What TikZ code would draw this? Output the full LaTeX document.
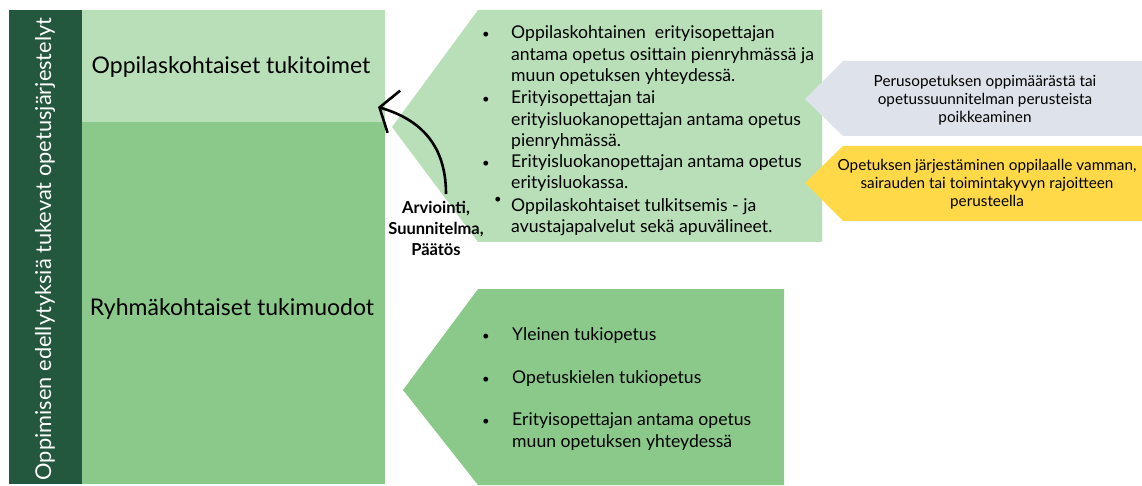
\documentclass[tikz,border=0pt]{standalone}
\usepackage{fontspec}
\setmainfont{Lato}
\usetikzlibrary{arrows.meta}
\definecolor{darkg}{RGB}{36,88,62}
\definecolor{lightg}{RGB}{184,223,184}
\definecolor{midg}{RGB}{139,201,138}
\definecolor{grayb}{RGB}{222,226,234}
\definecolor{yellowb}{RGB}{255,217,71}
\tikzset{
  txt/.style={inner sep=0pt, font=\fontsize{17.6}{21}\selectfont, anchor=base west},
  bul/.style={inner sep=0pt, font=\fontsize{13}{21}\selectfont, anchor=base},
  small/.style={inner sep=0pt, font=\fontsize{15.3}{18}\selectfont, anchor=base},
  head/.style={inner sep=0pt, font=\fontsize{23}{27}\selectfont, anchor=base},
}
\begin{document}
\begin{tikzpicture}[x=1pt,y=-1pt]
\useasboundingbox (0,0) rectangle (1142,486);
% left column
\fill[darkg] (9,10) rectangle (82,484);
\fill[lightg] (82,10) rectangle (385,122);
\fill[midg] (82,122) rectangle (385,484);
\node[inner sep=0pt, rotate=90, text=white, font=\fontsize{21.8}{25}\selectfont] (side) at (45,249) {Oppimisen edellytyksiä tukevat opetusjärjestelyt};
\node[head] (t1) at (231,74) {Oppilaskohtaiset tukitoimet};
\node[head] (t2) at (232,315) {Ryhmäkohtaiset tukimuodot};
% callouts
\fill[lightg] (478,10) -- (822,10) -- (822,242) -- (478,242) -- (392,127) -- cycle;
\fill[grayb] (843,61) -- (1142,61) -- (1142,136) -- (843,136) -- (805,99) -- cycle;
\fill[yellowb] (843,146) -- (1142,146) -- (1142,221) -- (843,221) -- (805,183) -- cycle;
\fill[midg] (478,289) -- (784,289) -- (784,485) -- (478,485) -- (403,390) -- cycle;
% top callout text
\node[bul] (b1) at (486,39) {•};
\node[txt] (l1) at (511,39) {Oppilaskohtainen\ \ erityisopettajan};
\node[txt] (l2) at (511,61) {antama opetus osittain pienryhmässä ja};
\node[txt] (l3) at (511,82) {muun opetuksen yhteydessä.};
\node[bul] (b2) at (486,104) {•};
\node[txt] (l4) at (511,104) {Erityisopettajan tai};
\node[txt] (l5) at (511,126) {erityisluokanopettajan antama opetus};
\node[txt] (l6) at (511,147) {pienryhmässä.};
\node[bul] (b3) at (486,168) {•};
\node[txt] (l7) at (511,168) {Erityisluokanopettajan antama opetus};
\node[txt] (l8) at (511,189) {erityisluokassa.};
\node[bul] (b4) at (498,204) {•};
\node[txt] (l9) at (511,212) {Oppilaskohtaiset tulkitsemis - ja};
\node[txt] (l10) at (511,233) {avustajapalvelut sekä apuvälineet.};
% gray text
\node[small] (g1) at (985,87) {Perusopetuksen oppimäärästä tai};
\node[small] (g2) at (985,105) {opetussuunnitelman perusteista};
\node[small] (g3) at (985,123) {poikkeaminen};
% yellow text
\node[small] (y1) at (987,171) {Opetuksen järjestäminen oppilaalle vamman,};
\node[small] (y2) at (987,189) {sairauden tai toimintakyvyn rajoitteen};
\node[small] (y3) at (987,207) {perusteella};
% bottom callout text
\node[bul] (c1) at (486,340) {•};
\node[txt] (m1) at (512,340) {Yleinen tukiopetus};
\node[bul] (c2) at (486,383) {•};
\node[txt] (m2) at (512,383) {Opetuskielen tukiopetus};
\node[bul] (c3) at (486,425) {•};
\node[txt] (m3) at (512,425) {Erityisopettajan antama opetus};
\node[txt] (m4) at (512,447) {muun opetuksen yhteydessä};
% label and arrow
\node[inner sep=0pt, align=center, font=\bfseries\fontsize{16.5}{21}\selectfont, anchor=north] (lab) at (436,201) {Arviointi,\\Suunnitelma,\\Päätös};
\coordinate (as) at (446,194);
\coordinate (ae) at (378,107);
\draw[line width=2.6pt, -{Straight Barb[length=15pt,width=44pt,line width=2.6pt]}] (as) .. controls (446,140) and (415,118) .. (ae);
\end{tikzpicture}
\end{document}
